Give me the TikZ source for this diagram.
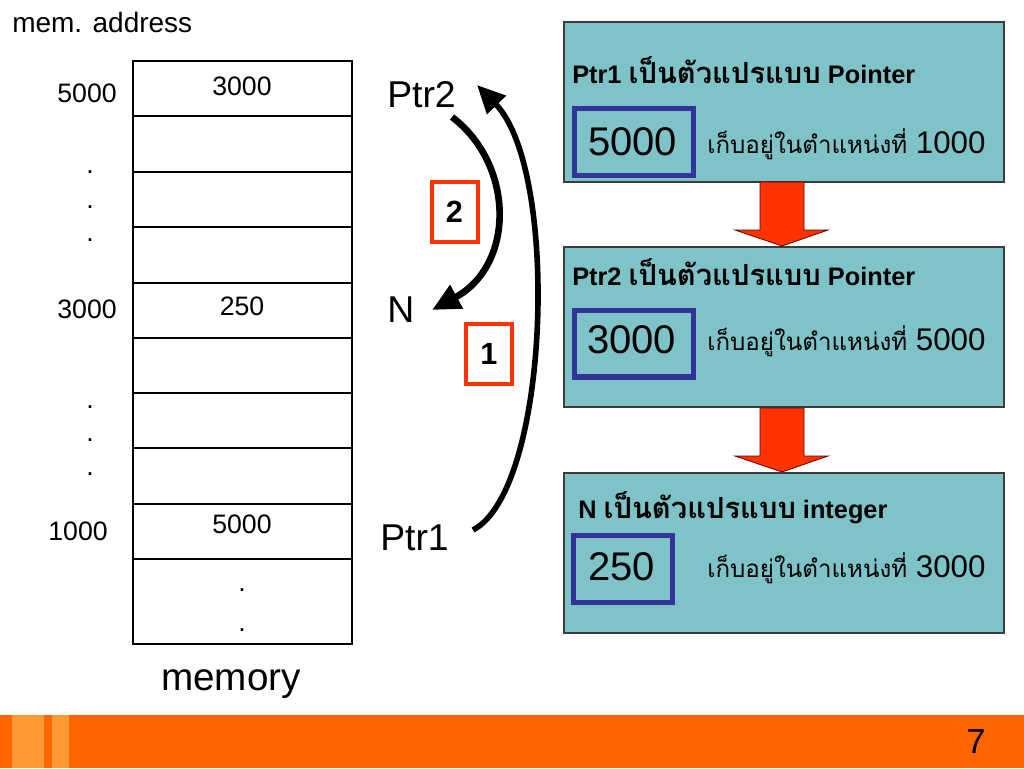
\documentclass[tikz,border=0pt]{standalone}
\usepackage{fontspec}
\setmainfont{Liberation Sans}
\newfontfamily\thai[Script=Thai,Scale=0.77]{Loma}
\newfontfamily\thaib[Script=Thai,Scale=1.15]{Loma}
\usetikzlibrary{arrows.meta}
\definecolor{tealfill}{RGB}{125,195,200}
\definecolor{tealedge}{RGB}{60,60,60}
\definecolor{bluebox}{RGB}{51,51,153}
\definecolor{redbox}{RGB}{255,51,0}
\definecolor{arrowred}{RGB}{255,51,0}
\definecolor{barorange}{RGB}{255,102,0}
\definecolor{barlight}{RGB}{255,153,51}
\tikzset{
  addr/.style={anchor=base east,inner sep=0pt,font=\fontsize{20}{24}\selectfont},
  cellv/.style={anchor=base,inner sep=0pt,font=\fontsize{20}{24}\selectfont},
  dotlbl/.style={inner sep=0pt,font=\fontsize{20}{24}\selectfont},
  ptrlbl/.style={anchor=base west,inner sep=0pt,font=\fontsize{28}{32}\selectfont},
  stepnum/.style={draw=redbox,line width=3pt,minimum width=34.5pt,minimum height=45pt,inner sep=0pt,font=\fontsize{23}{26}\selectfont\bfseries},
  bigarrow/.style={-{Triangle[length=21pt,width=19pt]},line width=5pt},
  tealbox/.style={draw=tealedge,fill=tealfill,line width=1pt,minimum width=330pt,minimum height=120pt,inner sep=0pt},
  valbox/.style={draw=bluebox,line width=4pt,minimum height=50pt,inner sep=0pt},
  head/.style={anchor=base west,inner sep=0pt,font=\fontsize{19}{22}\selectfont\bfseries},
  valtxt/.style={anchor=base west,inner sep=0pt,font=\fontsize{30}{34}\selectfont},
  loctxt/.style={anchor=base west,inner sep=0pt,font=\fontsize{23.5}{26}\selectfont},
  downarrow/.style={fill=arrowred,draw=black!60!red,line width=0.6pt}
}
\begin{document}
\begin{tikzpicture}[x=0.75pt,y=-0.75pt]
\useasboundingbox (0,0) rectangle (1024,768);
\fill[white] (0,0) rectangle (1024,768);
% bottom bar
\fill[barorange] (0,715) rectangle (1024,768);
\fill[barlight] (12,715) rectangle (44,768);
\fill[barlight] (52,715) rectangle (69,768);
\node[font=\fontsize{26}{28}\selectfont] (pg) at (976,742) {7};
% memory column
\node[anchor=base west,inner sep=0pt,font=\fontsize{21}{24}\selectfont] (memaddr) at (12,32) {mem. address};
\foreach \yy in {116,172,227,283,338,393,448,504,559}
  \draw[line width=1.1pt] (133,\yy) -- (352,\yy);
\draw[line width=2.2pt] (133,61) rectangle (352,644);
\node[cellv] (c1) at (242,95) {3000};
\node[cellv] (c2) at (242,315) {250};
\node[cellv] (c3) at (242,533) {5000};
\node[dotlbl] (cd1) at (242,590) {.};
\node[dotlbl] (cd2) at (242,630) {.};
\node[addr] (a5000) at (117,102) {5000};
\node[addr] (a3000) at (117,318) {3000};
\node[addr] (a1000) at (108,540) {1000};
\node[dotlbl] (ad1) at (90,172) {.};
\node[dotlbl] (ad2) at (90,207) {.};
\node[dotlbl] (ad3) at (90,240) {.};
\node[dotlbl] (ad4) at (90,407) {.};
\node[dotlbl] (ad5) at (90,440) {.};
\node[dotlbl] (ad6) at (90,474) {.};
\node[anchor=base,inner sep=0pt,font=\fontsize{29}{32}\selectfont] (memlbl) at (231,690) {memory};
% pointer labels and arrows
\node[ptrlbl] (ptwo) at (387,107) {Ptr2};
\node[ptrlbl] (nlbl) at (387,322) {N};
\node[ptrlbl] (pone) at (380,550) {Ptr1};
\coordinate (s2) at (452,117);
\coordinate (e2) at (432,310);
\coordinate (s1) at (473,530);
\coordinate (e1) at (477,85);
\draw[bigarrow] (s2) .. controls (515,165) and (515,265) .. (e2);
\draw[bigarrow,line width=4.2pt] (s1) .. controls (550,490) and (560,170) .. (e1);
\node[stepnum] (n2) at (454.5,211.5) {2};
\node[stepnum] (n1) at (489,353.5) {1};
% right boxes
\node[tealbox] (b1) at (784,102) {};
\node[tealbox] (b2) at (784,327) {};
\node[tealbox] (b3) at (784,553) {};
\draw[downarrow] (760,182) -- (804,182) -- (804,230) -- (828,230) -- (782,246) -- (735,230) -- (760,230) -- cycle;
\draw[downarrow] (760,408) -- (804,408) -- (804,456) -- (828,456) -- (782,472) -- (735,456) -- (760,456) -- cycle;
\node[head] (h1) at (572,83) {Ptr1 {\thaib เป็นตัวแปรแบบ} Pointer};
\node[head] (h2) at (572,285) {Ptr2 {\thaib เป็นตัวแปรแบบ} Pointer};
\node[head] (h3) at (578,518) {N {\thaib เป็นตัวแปรแบบ} integer};
\node[valbox,minimum width=89pt] (v1) at (634,142) {};
\node[valbox,minimum width=89pt] (v2) at (634,343.5) {};
\node[valbox,minimum width=74pt] (v3) at (623,569) {};
\node[valtxt] (t1) at (588,155) {5000};
\node[valtxt] (t2) at (587,353) {3000};
\node[valtxt] (t3) at (588,580) {250};
\node[loctxt] (l1) at (707,153) {{\thai เก็บอยู่ในตำแหน่งที่} 1000};
\node[loctxt] (l2) at (707,350) {{\thai เก็บอยู่ในตำแหน่งที่} 5000};
\node[loctxt] (l3) at (707,577) {{\thai เก็บอยู่ในตำแหน่งที่} 3000};
\end{tikzpicture}
\end{document}
